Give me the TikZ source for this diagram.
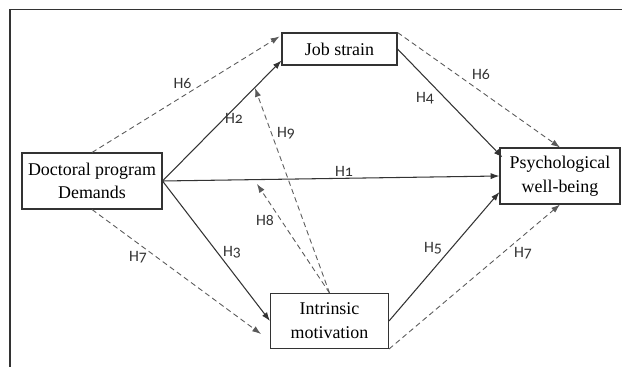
\documentclass[tikz,border=0pt]{standalone}
\usepackage{fontspec}
\setmainfont{Liberation Serif}
\newfontfamily\hfont[Numbers=OldStyle]{Carlito}
\usetikzlibrary{calc,arrows.meta}

\begin{document}
\begin{tikzpicture}[x=0.02cm,y=-0.02cm,
  box/.style={draw=black!80, line width=0.6pt, align=center, inner sep=0pt, font=\fontsize{10.2}{13.5}\selectfont},
  solidarr/.style={draw=black!80, line width=0.6pt, -{Latex[length=5pt,width=3.5pt]}},
  dasharr/.style={draw=black!65, line width=0.5pt, dash pattern=on 3pt off 2pt, -{Latex[length=5pt,width=3.5pt]}},
  hlab/.style={font=\hfont\fontsize{9}{9}\selectfont, text=black!80, inner sep=1pt}]
\useasboundingbox (0,0) rectangle (622,367);
\draw [black!80, line width=0.8pt] (10,367) -- (10,9.5) -- (622,9.5);

\node [box, minimum width=2.8cm, minimum height=1.12cm] (dem) at (92,181) {Doctoral program\\Demands};
\node [box, minimum width=2.3cm, minimum height=0.64cm] (job) at (339.5,49) {Job strain};
\node [box, minimum width=2.36cm, minimum height=1.1cm] (mot) at (329.5,321) {Intrinsic\\motivation};
\node [box, minimum width=2.4cm, minimum height=1.12cm] (pwb) at (560,176) {Psychological\\well-being};

% direct paths
\draw [solidarr] (dem.east) -- (pwb.west);
\draw [solidarr] (dem.east) -- ([yshift=0.1cm]job.south west);
\draw [solidarr] (dem.east) -- (mot.west);
\draw [solidarr] (job.east) -- ([xshift=0.06cm,yshift=-0.2cm]pwb.north west);
\draw [solidarr] (mot.east) -- ([yshift=0.25cm]pwb.south west);

% mediation paths
\draw [dasharr] (dem.north) -- ([xshift=-0.04cm,yshift=-0.08cm]job.north west);
\draw [dasharr] (job.north east) -- (pwb.north);
\draw [dasharr] (dem.south) -- ($(mot.south west)+(-9,-15)$);
\draw [dasharr] (mot.south east) -- (pwb.south);

% moderation
\coordinate (h8end) at (257,184);
\coordinate (h9end) at (255,88);
\draw [dasharr] (mot.north) -- (h8end);
\draw [dasharr] (mot.north) -- (h9end);

\node [hlab] (h1) at (344,171) {H1};
\node [hlab] (h2) at (234,118) {H2};
\node [hlab] (h3) at (232,252) {H3};
\node [hlab] (h4) at (425,98) {H4};
\node [hlab] (h5) at (433,248) {H5};
\node [hlab] (h6a) at (182.5,83) {H6};
\node [hlab] (h6b) at (481,74) {H6};
\node [hlab] (h7a) at (138,257) {H7};
\node [hlab] (h7b) at (523,253) {H7};
\node [hlab] (h8) at (265,220) {H8};
\node [hlab] (h9) at (286,133) {H9};
\end{tikzpicture}
\end{document}
